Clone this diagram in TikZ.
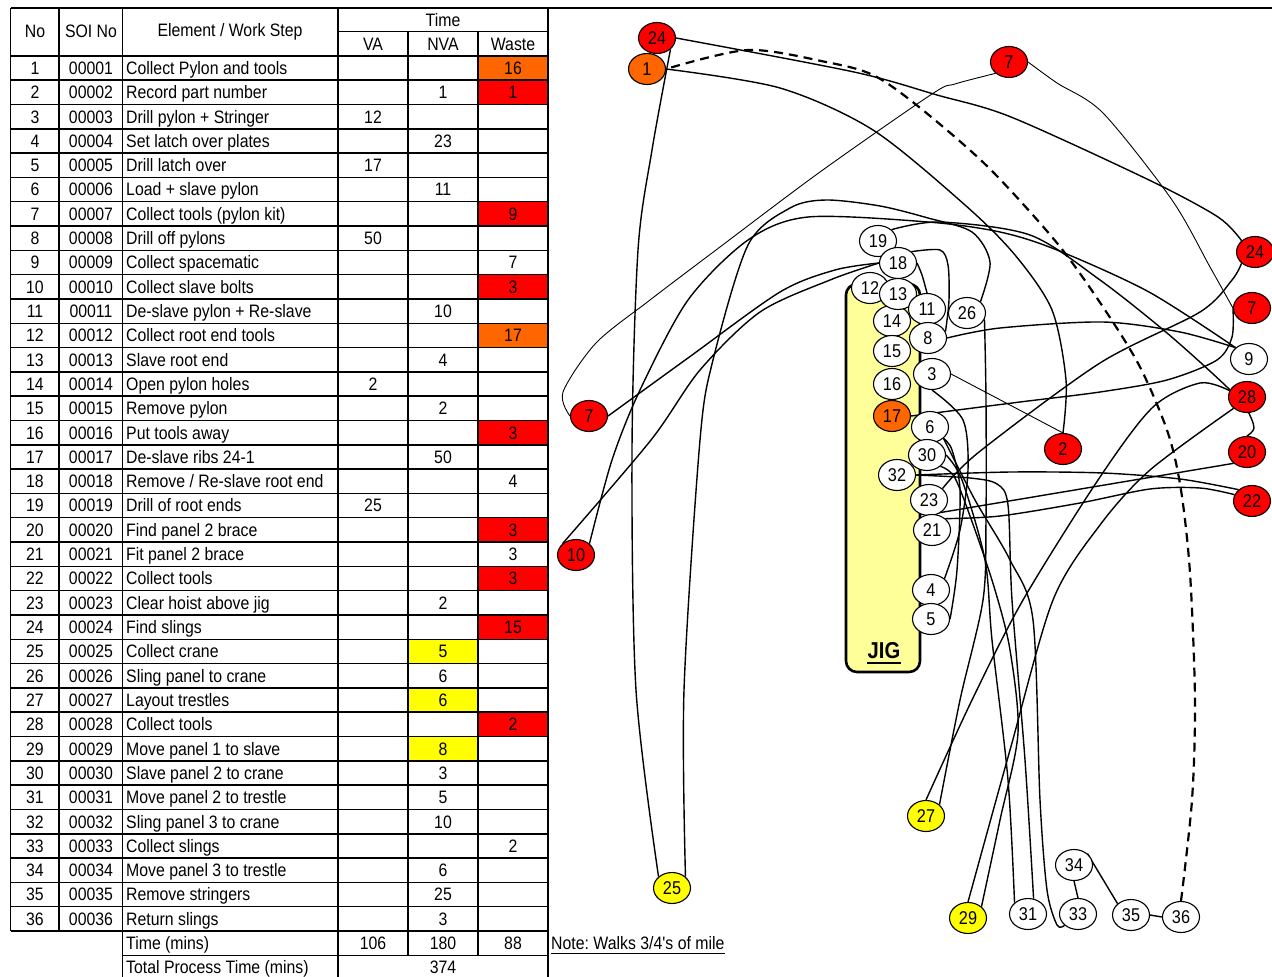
\documentclass[tikz,border=0pt]{standalone}
\usepackage{fontspec}
\setmainfont{Liberation Sans}[FakeStretch=0.88]
\newfontfamily\tf{Liberation Sans}[FakeStretch=0.88]
\usetikzlibrary{shapes.geometric}
\definecolor{wred}{HTML}{FF0000}
\definecolor{worange}{HTML}{FF6600}
\definecolor{wyellow}{HTML}{FFFF00}
\definecolor{jigfill}{HTML}{FFFF99}
\pgfdeclarelayer{bg}\pgfdeclarelayer{fg}\pgfsetlayers{bg,main,fg}
\frenchspacing
\tikzset{
  txt/.style={inner sep=0pt, font=\tf\fontsize{18}{21}\selectfont},
  gridline/.style={line width=1.5pt},
  stepnode/.style={ellipse, draw, line width=1.1pt, minimum width=37pt, minimum height=31pt, inner sep=0pt, fill=white, font=\tf\fontsize{18.5}{21}\selectfont},
  walk/.style={line width=1.4pt, line join=round},
  thinwalk/.style={line width=0.9pt, line join=round},
  backwalk/.style={line width=2.2pt, dash pattern=on 9pt off 6pt},
}
\newcommand\TR[7]{%
  \pgfmathsetmacro\yc{68+24.31*(#1-1)}%
  \fill[#6] (408,\yc-12.15) rectangle (478,\yc+12.15);%
  \fill[#7] (478,\yc-12.15) rectangle (548,\yc+12.15);%
  \node[txt,anchor=base] (tno#1) at (35,\yc+6.4) {#1};%
  \node[txt,anchor=base] (tsoi#1) at (91,\yc+6.4) {\ifnum#1<10 0000#1\else 000#1\fi};%
  \node[txt,anchor=base west] (tel#1) at (126,\yc+6.4) {#2};%
  \node[txt,anchor=base] (tva#1) at (373,\yc+6.4) {#3};%
  \node[txt,anchor=base] (tnva#1) at (443,\yc+6.4) {#4};%
  \node[txt,anchor=base] (twa#1) at (513,\yc+6.4) {#5};%
}
\begin{document}
\begin{tikzpicture}[x=1pt,y=-1pt]
\useasboundingbox (0,0) rectangle (1272,977);
\begin{pgfonlayer}{bg}
\fill[white] (0,0) rectangle (1272,977);
\draw[line width=2.6pt, fill=jigfill, rounded corners=11pt] (846,284) rectangle (920,672);
\end{pgfonlayer}

% ---------------- table ----------------
\TR{1}{Collect Pylon and tools}{}{}{16}{white}{worange}
\TR{2}{Record part number}{}{1}{1}{white}{wred}
\TR{3}{Drill pylon + Stringer}{12}{}{}{white}{white}
\TR{4}{Set latch over plates}{}{23}{}{white}{white}
\TR{5}{Drill latch over}{17}{}{}{white}{white}
\TR{6}{Load + slave pylon}{}{11}{}{white}{white}
\TR{7}{Collect tools (pylon kit)}{}{}{9}{white}{wred}
\TR{8}{Drill off pylons}{50}{}{}{white}{white}
\TR{9}{Collect spacematic}{}{}{7}{white}{white}
\TR{10}{Collect slave bolts}{}{}{3}{white}{wred}
\TR{11}{De-slave pylon + Re-slave}{}{10}{}{white}{white}
\TR{12}{Collect root end tools}{}{}{17}{white}{worange}
\TR{13}{Slave root end}{}{4}{}{white}{white}
\TR{14}{Open pylon holes}{2}{}{}{white}{white}
\TR{15}{Remove pylon}{}{2}{}{white}{white}
\TR{16}{Put tools away}{}{}{3}{white}{wred}
\TR{17}{De-slave ribs 24-1}{}{50}{}{white}{white}
\TR{18}{Remove / Re-slave root end}{}{}{4}{white}{white}
\TR{19}{Drill of root ends}{25}{}{}{white}{white}
\TR{20}{Find panel 2 brace}{}{}{3}{white}{wred}
\TR{21}{Fit panel 2 brace}{}{}{3}{white}{white}
\TR{22}{Collect tools}{}{}{3}{white}{wred}
\TR{23}{Clear hoist above jig}{}{2}{}{white}{white}
\TR{24}{Find slings}{}{}{15}{white}{wred}
\TR{25}{Collect crane}{}{5}{}{wyellow}{white}
\TR{26}{Sling panel to crane}{}{6}{}{white}{white}
\TR{27}{Layout trestles}{}{6}{}{wyellow}{white}
\TR{28}{Collect tools}{}{}{2}{white}{wred}
\TR{29}{Move panel 1 to slave}{}{8}{}{wyellow}{white}
\TR{30}{Slave panel 2 to crane}{}{3}{}{white}{white}
\TR{31}{Move panel 2 to trestle}{}{5}{}{white}{white}
\TR{32}{Sling panel 3 to crane}{}{10}{}{white}{white}
\TR{33}{Collect slings}{}{}{2}{white}{white}
\TR{34}{Move panel 3 to trestle}{}{6}{}{white}{white}
\TR{35}{Remove stringers}{}{25}{}{white}{white}
\TR{36}{Return slings}{}{3}{}{white}{white}

% header
\node[txt] (hno) at (35,31.5) {No};
\node[txt] (hsoi) at (91,31.5) {SOI No};
\node[txt] (hel) at (230,31.5) {Element / Work Step};
\node[txt] (htime) at (443,19.8) {Time};
\node[txt] (hva) at (373,44) {VA};
\node[txt] (hnva) at (443,44) {NVA};
\node[txt] (hwa) at (513,44) {Waste};

% totals
\node[txt,anchor=base west] (ttime) at (126,949.6) {Time (mins)};
\node[txt,anchor=base] (tva) at (373,949.6) {106};
\node[txt,anchor=base] (tnva) at (443,949.6) {180};
\node[txt,anchor=base] (twa) at (513,949.6) {88};
\node[txt,anchor=base west] (ttot) at (126,973.9) {Total Process Time (mins)};
\node[txt,anchor=base] (ttotv) at (443,973.9) {374};

% grid
\draw[gridline] (10.7,8) -- (1272,8);
\draw[gridline] (338,31.7) -- (548,31.7);
\foreach \k in {0,...,36} \draw[gridline] (10.7,55.85+24.31*\k) -- (548,55.85+24.31*\k);
\draw[gridline] (122.5,955.3) -- (548,955.3);
\draw[gridline] (10.7,8) -- (10.7,931.0);
\draw[gridline] (59,8) -- (59,931.0);
\draw[gridline] (122.5,8) -- (122.5,977);
\draw[gridline] (338,8) -- (338,977);
\draw[gridline] (408,31.7) -- (408,955.3);
\draw[gridline] (478,31.7) -- (478,955.3);
\draw[gridline] (548,8) -- (548,977);

% note
\node[txt,anchor=base west] (note) at (551,949.6) {Note: Walks 3/4's of mile};
\draw[line width=1.3pt] ([yshift=-4pt]note.base west) -- ([yshift=-4pt]note.base east);

% ---------------- jig label ----------------
\node[inner sep=0pt, anchor=base, font=\tf\fontsize{23}{26}\selectfont\bfseries] (jig) at (884,658) {JIG};
\draw[line width=2.7pt] ([yshift=-5pt]jig.base west) -- ([yshift=-5pt]jig.base east);

% ---------------- nodes ----------------
\begin{pgfonlayer}{fg}
\node[stepnode, fill=wred] (n24a) at (657,38) {24};
\node[stepnode, fill=worange] (n1) at (647,69) {1};
\node[stepnode, fill=wred] (n7a) at (1009,62) {7};
\node[stepnode] (n19) at (878,241) {19};
\node[stepnode] (n12) at (870,288) {12};
\node[stepnode] (n18) at (898,263) {18};
\node[stepnode] (n14) at (892,321) {14};
\node[stepnode] (n13) at (898,294) {13};
\node[stepnode] (n11) at (927,309) {11};
\node[stepnode] (n26) at (967,313) {26};
\node[stepnode] (n8) at (928,338) {8};
\node[stepnode] (n15) at (892,351) {15};
\node[stepnode] (n3) at (932,374) {3};
\node[stepnode] (n16) at (892,384) {16};
\node[stepnode, fill=worange] (n17) at (892,416) {17};
\node[stepnode] (n6) at (930,427) {6};
\node[stepnode] (n30) at (927,455) {30};
\node[stepnode] (n32) at (897,475) {32};
\node[stepnode] (n23) at (929,500) {23};
\node[stepnode] (n21) at (932,530) {21};
\node[stepnode] (n4) at (931,590) {4};
\node[stepnode] (n5) at (931,619) {5};
\node[stepnode, fill=wred] (n2) at (1063,449) {2};
\node[stepnode, fill=wred] (n24b) at (1255,252) {24};
\node[stepnode, fill=wred] (n7c) at (1252,308) {7};
\node[stepnode] (n9) at (1249,359) {9};
\node[stepnode, fill=wred] (n28) at (1247,397) {28};
\node[stepnode, fill=wred] (n20) at (1247,452) {20};
\node[stepnode, fill=wred] (n22) at (1252,501) {22};
\node[stepnode, fill=wred] (n7b) at (589,416) {7};
\node[stepnode, fill=wred] (n10) at (576,555) {10};
\node[stepnode, fill=wyellow] (n25) at (672,888) {25};
\node[stepnode, fill=wyellow] (n27) at (926,816) {27};
\node[stepnode, fill=wyellow] (n29) at (968,918) {29};
\node[stepnode] (n31) at (1028,914) {31};
\node[stepnode] (n33) at (1078,914) {33};
\node[stepnode] (n34) at (1074,865) {34};
\node[stepnode] (n35) at (1131,915) {35};
\node[stepnode] (n36) at (1181,917) {36};
\end{pgfonlayer}

% ---------------- walks ----------------
\draw[walk] plot[smooth] coordinates {(n1.east) (780,88) (873,130) (965,205) (1015,255) (1052,310) (1066,380) (n2.north)};
\draw[thinwalk] (n3.east) -- (n2.north);
\draw[walk] plot[smooth] coordinates {(n3.south) (963,420) (968,470) (960,530) (n4.north east)};
\draw[walk] plot[smooth] coordinates {(n5.east) (957,570) (960,490) (952,450) (n6.south east)};
\draw[walk] plot[smooth] coordinates {(n6.south east) (975,500) (1010,560) (1033,620) (1040,800) (1047,890) (1057,925) (n33.south west)};
\draw[walk] plot[smooth] coordinates {(n30.east) (962,480) (985,560) (992,640) (1008,780) (n31.north west)};
\draw[walk] plot[smooth] coordinates {(n32.east) (970,478) (997,484) (1008,505) (1012,600) (1025,760) (n31.70)};
\draw[walk] plot[smooth] coordinates {(n29.north east) (1000,820) (1018,733) (1010,650) (995,590) (975,530) (955,478) (n30.south east)};
\draw[walk] plot[smooth] coordinates {(n28.south west) (1150,470) (1100,525) (1053,600) (1010,750) (n29.north)};
\draw[walk] plot[smooth] coordinates {(n27.north) (972,700) (1023,600) (1100,477) (1153,407) (1200,383) (n28.160)};
\draw[walk] plot[smooth] coordinates {(n26.-20) (986,400) (986,520) (983,600) (960,700) (n27.north east)};
\draw[walk] plot[smooth] coordinates {(n25.north east) (684,690) (700,440) (713,360) (748,245) (790,208) (826,200) (880,206) (928,218) (972,232) (990,262) (n26.north east)};
\draw[walk] plot[smooth] coordinates {(n24a.south east) (652,150) (638,250) (632,450) (636,690) (n25.north west)};
\draw[walk] plot[smooth] coordinates {(n24b.north west) (1218,217) (1149,180) (1011,117) (937,95) (854,72) (n24a.east)};
\draw[walk] plot[smooth] coordinates {(n23.north east) (979,452) (1100,363) (1200,312) (1232,280) (n24b.south west)};
\draw[walk] (n20.south west) -- (n21.north);
\draw[walk] plot[smooth] coordinates {(n21.north east) (1000,516) (1080,503) (1150,489) (1200,488) (n22.160)};
\draw[walk] plot[smooth] coordinates {(n22.north west) (1180,479) (1103,473) (1011,472) (n32.east)};
\draw[walk] plot[smooth] coordinates {(n19.north east) (940,222) (1030,235) (1100,280) (1167,333) (1227,387) (1247,410) (1254,428) (n20.north)};
\draw[walk] plot[smooth] coordinates {(n8.east) (1000,328) (1103,322) (1180,332) (n9.north west)};
\draw[walk] plot[smooth] coordinates {(n9.north west) (1149,292) (1057,250) (1000,232) (928,222) (808,217) (748,240) (688,300) (640,390) (612,460) (n10.north east)};
\draw[walk] plot[smooth] coordinates {(n10.north west) (651,440) (700,370) (760,312) (830,280) (n18.west)};
\draw[walk] plot[smooth] coordinates {(n18.north east) (940,250) (948,265) (949,300) (n8.20)};
\draw[walk] plot[smooth] coordinates {(n18.east) (922,275) (n11.north)};
\draw[thinwalk] plot[smooth] coordinates {(n7a.south west) (955,84) (932,94) (820,172) (716,250) (650,300) (596,343) (563,392) (n7b.west)};
\draw[walk] plot[smooth] coordinates {(n7b.east) (688,358) (780,292) (835,270) (n18.west)};
\draw[thinwalk] plot[smooth] coordinates {(n7a.east) (1057,83) (1103,113) (1172,200) (1210,267) (n7c.west)};
\draw[walk] plot[smooth] coordinates {(n7c.west) (1232,337) (1217,360) (1167,380) (1100,392) (1020,402) (n17.east)};
\draw[walk] (n34.south) -- (n33.north);
\draw[walk] (n34.north east) -- (n35.north west);
\draw[walk] (n35.east) -- (n36.west);
\draw[backwalk] plot[smooth] coordinates {(n36.north) (1192,800) (1195,700) (1190,573) (1181,490) (1168,433) (1140,367) (1103,307) (1057,243) (988,167) (919,107) (873,75) (826,62) (748,50) (n1.east)};
\end{tikzpicture}
\end{document}
